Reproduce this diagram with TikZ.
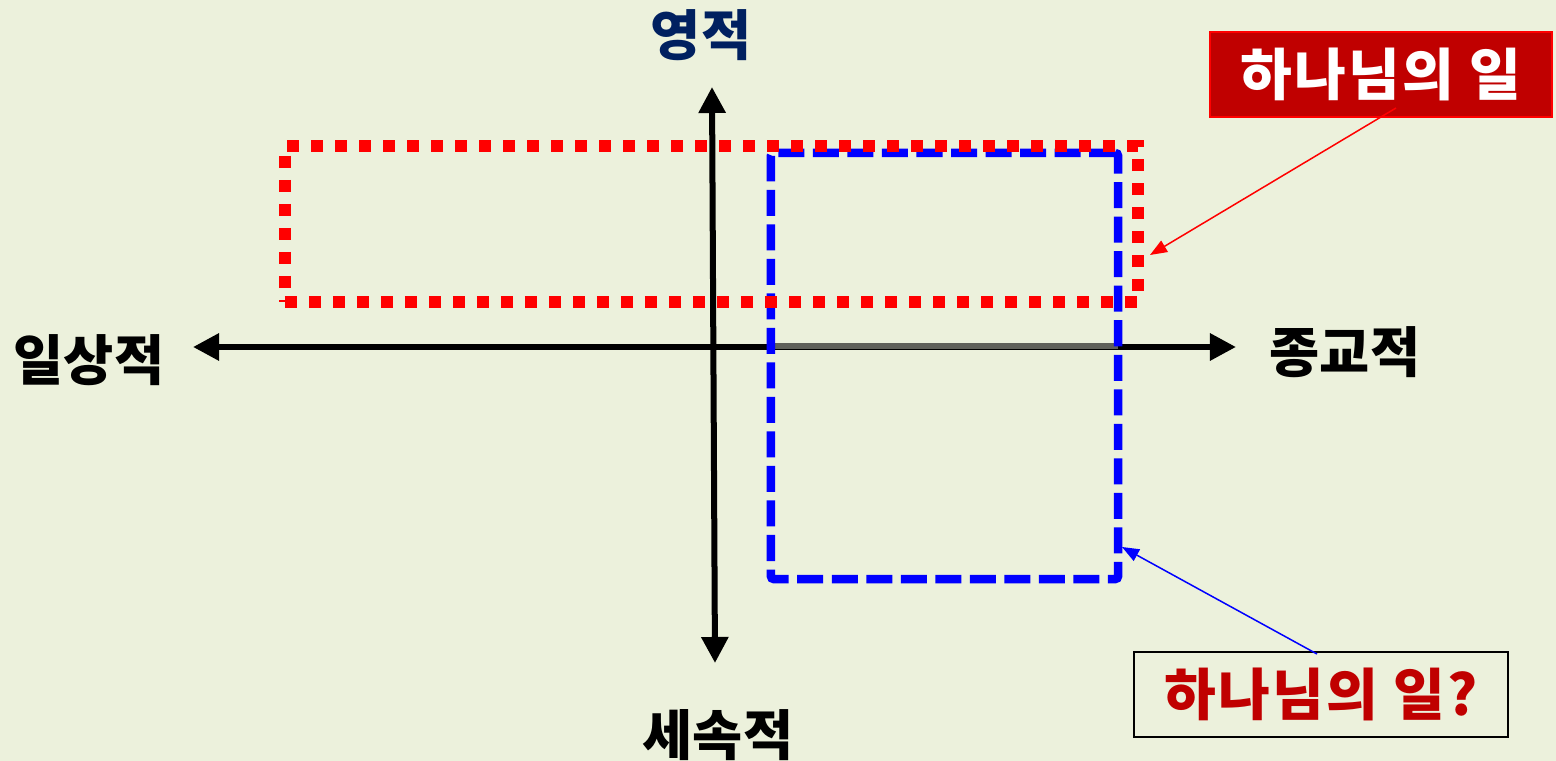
\documentclass[tikz,border=0pt]{standalone}
\usepackage{fontspec}
\setmainfont{Noto Sans CJK KR}
\usetikzlibrary{arrows.meta,calc}
\definecolor{bg}{RGB}{236,241,220}
\definecolor{navy}{RGB}{0,32,96}
\definecolor{darkred}{RGB}{192,0,0}
\definecolor{axisgray}{RGB}{95,96,90}
\begin{document}
\begin{tikzpicture}[x=0.01cm,y=-0.01cm,
  axis/.style={line width=0.06cm,-{Triangle[width=0.26cm,length=0.26cm]}},
  lbl/.style={font=\fontsize{15.5pt}{18pt}\selectfont\bfseries,inner sep=0pt},
  redrect/.style={draw=red,line width=0.12cm,dash pattern=on 0.12cm off 0.12cm},
  bluerect/.style={draw=blue,line width=0.085cm,dash pattern=on 0.26cm off 0.085cm},
  callout/.style={font=\fontsize{16pt}{18pt}\selectfont\bfseries\addfontfeature{LetterSpace=4},inner sep=0pt,line width=0.015cm},
  pointer/.style={line width=0.015cm,-{Triangle[width=0.13cm,length=0.17cm]}}]
\fill[bg] (0,0) rectangle (1556,761);
\useasboundingbox (0,0) rectangle (1556,761);
% axis endpoints
\coordinate (o) at (713,347);
\coordinate (left) at (193,347);
\coordinate (right) at (1236,347);
\coordinate (top) at (712,87);
\coordinate (bottom) at (715,663);
\draw[axis] (o) -- (left);
\draw[axis] (o) -- (right);
\draw[axis,{Triangle[width=0.26cm,length=0.26cm]}-{Triangle[width=0.26cm,length=0.26cm]}] (top) -- (bottom);
\coordinate (g1) at (771,346);
\coordinate (g2) at (1118,346);
\draw[axisgray,line width=0.06cm] (g1) -- (g2);
% labels
\node[lbl,text=navy] (spiritual) at (701,35) {영적};
\node[lbl] (secular) at (718,735) {세속적};
\node[lbl] (daily) at (89,360) {일상적};
\node[lbl] (religious) at (1345,352) {종교적};
% rectangles
\node[bluerect,minimum width=3.47cm,minimum height=4.26cm,inner sep=0pt,rounded corners=0.03cm] (blue) at (944.5,366) {};
\node[redrect,minimum width=8.53cm,minimum height=1.56cm,inner sep=0pt] (red) at (711.5,224) {};
% callouts
\node[callout,fill=darkred,draw=red,text=white,minimum width=3.42cm,minimum height=0.85cm] (c1) at (1381,74.5) {하나님의 일};
\node[callout,draw=black,text=darkred,minimum width=3.74cm,minimum height=0.85cm] (c2) at (1321,694.5) {하나님의 일?};
\coordinate (s1) at (1396,108);
\coordinate (t1) at (1150,255);
\coordinate (s2) at (1317,654);
\coordinate (t2) at (1122,547);
\draw[pointer,red] (s1) -- (t1);
\draw[pointer,blue] (s2) -- (t2);
\end{tikzpicture}
\end{document}
